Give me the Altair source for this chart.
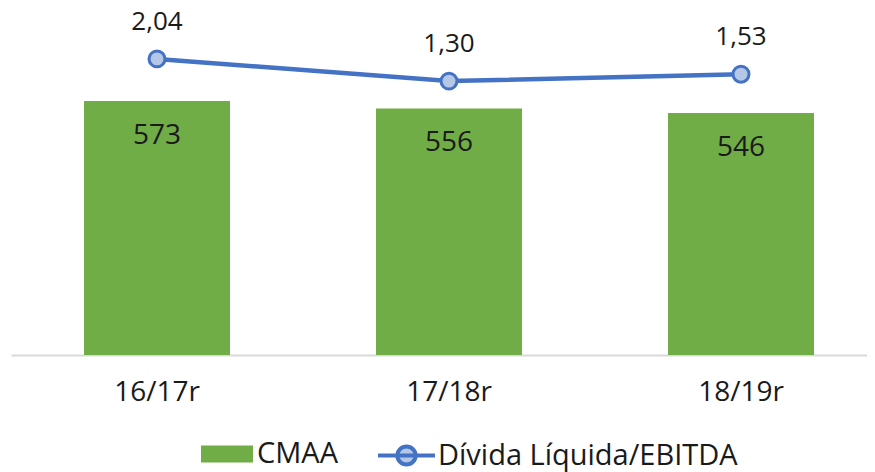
import altair as alt
import pandas as pd

categories = ["16/17r", "17/18r", "18/19r"]
cmaa = [573, 556, 546]
divida = [2.04, 1.30, 1.53]
series_bar = "CMAA"
series_line = "Dívida Líquida/EBITDA"

df = pd.DataFrame({"cat": categories, "cmaa": cmaa, "div": divida})
df["cmaa_label"] = [str(v) for v in cmaa]
df["div_label"] = [f"{v:.2f}".replace(".", ",") for v in divida]
df["s_bar"] = series_bar
df["s_line"] = series_line

FONT = "Open Sans"
GREEN = "#70AD47"
BLUE = "#4472C4"
LIGHT = "#B4C7E7"
TEXT = "#1a1a1a"

base = alt.Chart(df)

x_axis = alt.X(
    "cat:N", sort=categories,
    scale=alt.Scale(range=[0, 876], paddingInner=0.5, paddingOuter=0.25),
    axis=alt.Axis(title=None, domainColor="#D9D9D9", domainWidth=2, ticks=False,
                  labelFont=FONT, labelFontSize=28, labelColor=TEXT,
                  labelPadding=23, labelAngle=0, grid=False),
)
x_plain = alt.X("cat:N", sort=categories)

y_bar = alt.Y("cmaa:Q", scale=alt.Scale(domain=[0, 778]), axis=None)
y_line = alt.Y("div:Q", scale=alt.Scale(domain=[-7.83, 3.67]), axis=None)

bars = base.mark_bar().encode(
    x=x_axis,
    y=y_bar,
    fill=alt.Fill("s_bar:N", scale=alt.Scale(domain=[series_bar], range=[GREEN]),
                  legend=alt.Legend(title=None, orient="none", legendX=190, legendY=418,
                                    direction="horizontal", padding=0,
                                    symbolType="M-1,-0.33H1V0.33H-1Z", symbolSize=2704,
                                    symbolStrokeWidth=0, labelFont=FONT, labelFontSize=29,
                                    labelColor=TEXT, labelOffset=4, labelLimit=500)),
)
bar_text = base.mark_text(baseline="alphabetic", dy=43, font=FONT, fontSize=28, color=TEXT).encode(
    x=x_plain, y=y_bar, text="cmaa_label:N"
)

line = base.mark_line(strokeWidth=4.5).encode(
    x=x_plain,
    y=y_line,
    stroke=alt.Stroke("s_line:N", scale=alt.Scale(domain=[series_line], range=[BLUE]),
                      legend=alt.Legend(title=None, orient="none", legendX=365, legendY=415,
                                        direction="horizontal", padding=0,
                                        symbolType="M-1,0H1M0.32,0A0.32,0.32,0,1,1,-0.32,0A0.32,0.32,0,1,1,0.32,0Z",
                                        symbolSize=3249, symbolStrokeWidth=4,
                                        symbolFillColor=LIGHT, labelFont=FONT, labelFontSize=29,
                                        labelColor=TEXT, labelOffset=1, labelLimit=500)),
)
points = base.mark_point(shape="circle", filled=True, fill=LIGHT, stroke=BLUE,
                         strokeWidth=3, size=254, opacity=1).encode(x=x_plain, y=y_line)
line_text = base.mark_text(baseline="alphabetic", dy=-29, font=FONT, fontSize=26, color=TEXT).encode(
    x=x_plain, y=y_line, text="div_label:N"
)

chart = alt.layer(
    alt.layer(bars, bar_text),
    alt.layer(line, points, line_text),
).resolve_scale(y="independent").properties(
    width=856, height=345,
    autosize=alt.AutoSizeParams(type="none"),
    padding={"left": 3, "top": 2, "right": 0, "bottom": 125},
    background="white",
).configure_view(stroke=None)

chart.save("out.html", embed_options={"renderer": "svg", "actions": False})
